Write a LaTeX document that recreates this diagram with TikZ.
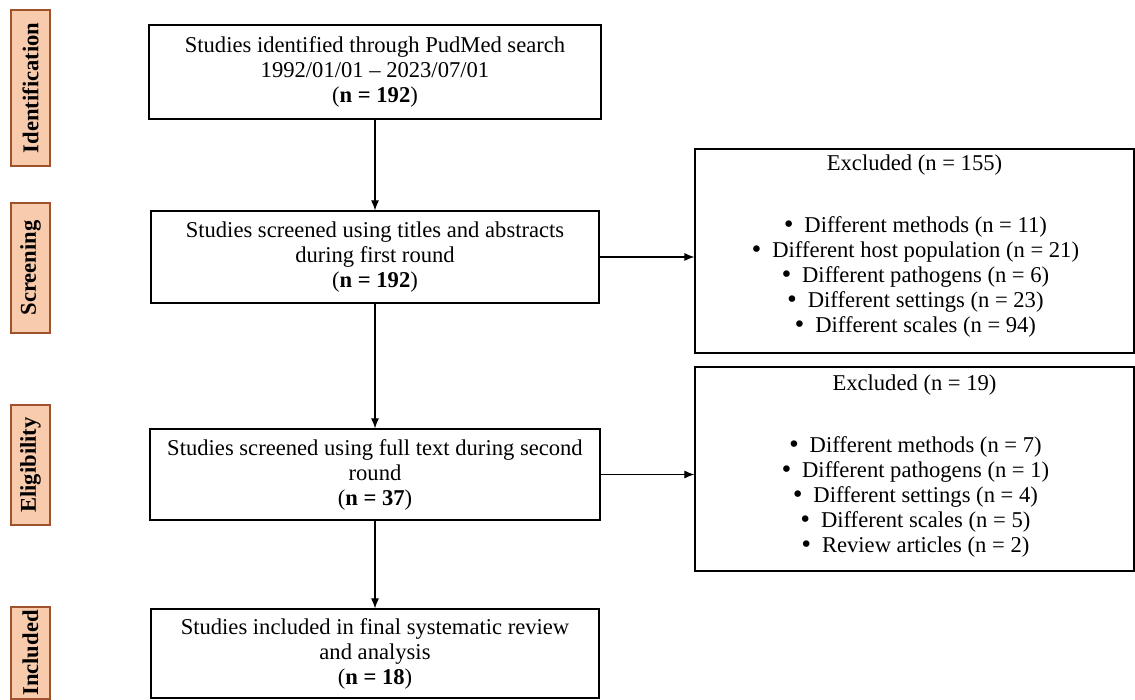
\documentclass[tikz,border=0pt]{standalone}
\usepackage{fontspec}
\setmainfont{Liberation Serif}
\newfontfamily\bulfont{DejaVu Sans}
\usetikzlibrary{arrows.meta,calc}
\definecolor{phasefill}{HTML}{F8CBAD}
\definecolor{phasedraw}{HTML}{A0522D}
\newcommand\exbul{{\bulfont •}\hspace{0.4em}}
\begin{document}
\begin{tikzpicture}[x=1pt,y=-1pt,
  every node/.style={font=\fontsize{22.6}{25}\selectfont},
  mainbox/.style={draw=black,line width=1.2pt,align=center,inner sep=0pt},
  exbox/.style={draw=black,line width=1.2pt,inner sep=0pt},
  extext/.style={align=center,inner sep=0pt,anchor=north},
  phase/.style={draw=phasedraw,fill=phasefill,line width=1.2pt,rotate=90,inner sep=0pt,
    minimum height=39pt,font=\fontsize{22.6}{25}\selectfont\bfseries},
  arr/.style={-{Latex[length=10pt,width=8pt]},line width=1.1pt}]
\useasboundingbox (0,0) rectangle (1135,700);

% phase labels
\node[phase,minimum width=156pt] (pid) at (30.5,88) {Identification};
\node[phase,minimum width=130pt] (psc) at (30.5,268) {Screening};
\node[phase,minimum width=120pt] (pel) at (30.5,465) {Eligibility};
\node[phase,minimum width=92pt] (pin) at (30.5,653) {Included};

% main boxes
\node[mainbox,minimum width=452pt,minimum height=94pt] (b1) at (375,72)
  {Studies identified through PudMed search\\1992/01/01 – 2023/07/01\\(\textbf{n = 192})};
\node[mainbox,minimum width=448pt,minimum height=92pt] (b2) at (375,257)
  {Studies screened using titles and abstracts\\during first round\\(\textbf{n = 192})};
\node[mainbox,minimum width=450pt,minimum height=91pt] (b3) at (375,474.5)
  {Studies screened using full text during second\\round\\(\textbf{n = 37})};
\node[mainbox,minimum width=448pt,minimum height=89pt] (b4) at (375,653.5)
  {Studies included in final systematic review\\and analysis\\(\textbf{n = 18})};

% exclusion boxes
\node[exbox,minimum width=439pt,minimum height=204pt] (e1) at (914.5,251) {};
\node[extext] (e1t) at (914.5,155)
  {Excluded (n = 155)\\[37pt]
   \exbul Different methods (n = 11)\\
   \exbul Different host population (n = 21)\\
   \exbul Different pathogens (n = 6)\\
   \exbul Different settings (n = 23)\\
   \exbul Different scales (n = 94)};
\node[exbox,minimum width=439pt,minimum height=204pt] (e2) at (914.5,469) {};
\node[extext] (e2t) at (914.5,375)
  {Excluded (n = 19)\\[37pt]
   \exbul Different methods (n = 7)\\
   \exbul Different pathogens (n = 1)\\
   \exbul Different settings (n = 4)\\
   \exbul Different scales (n = 5)\\
   \exbul Review articles (n = 2)};

% connectors
\draw[arr] (b1) -- (b2);
\draw[arr] (b2) -- (b3);
\draw[arr] (b3) -- (b4);
\draw[arr] (b2.east) -- (b2.east -| e1.west);
\draw[arr] (b3.east) -- (b3.east -| e2.west);
\end{tikzpicture}
\end{document}
